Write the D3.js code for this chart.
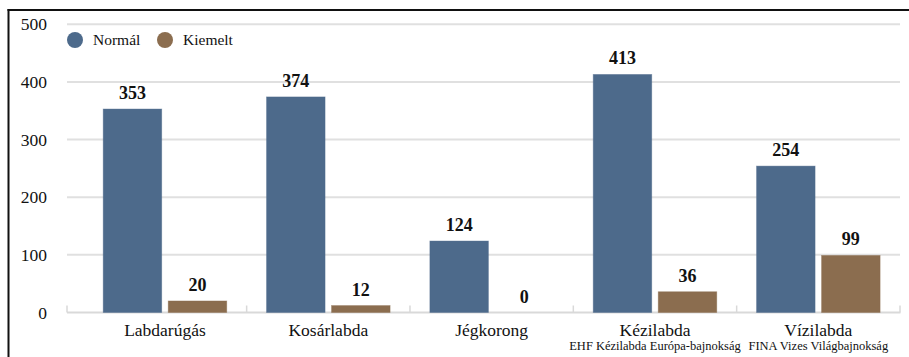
<!DOCTYPE html>
<html>
<head>
<meta charset="utf-8">
<script src="https://cdn.jsdelivr.net/npm/d3@7"></script>
<style>
  html, body { margin: 0; padding: 0; background: #fff; }
  svg { display: block; }
  text { font-family: "Liberation Serif", "Times New Roman", serif; fill: #111; }
</style>
</head>
<body>
<svg id="chart" width="909" height="357"></svg>
<script>
const categories = ["Labdarúgás", "Kosárlabda", "Jégkorong", "Kézilabda", "Vízilabda"];
const subLabels = ["", "", "", "EHF Kézilabda Európa-bajnokság", "FINA Vizes Világbajnokság"];
const seriesNames = ["Normál", "Kiemelt"];
const normalValues = [353, 374, 124, 413, 254];
const kiemeltValues = [20, 12, 0, 36, 99];
const yTicks = [0, 100, 200, 300, 400, 500];
const colors = ["#4d6a8b", "#8b6d4f"];

const svg = d3.select("#chart");
const W = 909, H = 357;

// frame
svg.append("line").attr("x1", 8.5).attr("x2", 8.5).attr("y1", 9).attr("y2", H).attr("stroke", "#111").attr("stroke-width", 2);
svg.append("line").attr("x1", 7.5).attr("x2", W).attr("y1", 10).attr("y2", 10).attr("stroke", "#111").attr("stroke-width", 2);

const gridLeft = 67, right = 900;
const y = d3.scaleLinear().domain([0, 500]).range([312.5, 24.3]);
const x = d3.scaleBand().domain(categories).range([83.3, right]).paddingInner(0).paddingOuter(0);
const xs = d3.scaleBand().domain(seriesNames).range([0, x.bandwidth()]).paddingInner(0.1).paddingOuter(0.306);

// grid
svg.append("g").selectAll("line").data(yTicks.filter(d => d > 0)).join("line")
  .attr("x1", gridLeft).attr("x2", right)
  .attr("y1", d => y(d)).attr("y2", d => y(d))
  .attr("stroke", "#e0e0e0").attr("stroke-width", 2);

// y labels
svg.append("g").selectAll("text").data(yTicks).join("text")
  .attr("x", 47).attr("y", d => y(d)).attr("dy", "0.35em")
  .attr("text-anchor", "end").attr("font-size", 17.5)
  .text(d => d);

// x axis line and ticks
svg.append("line").attr("x1", gridLeft).attr("x2", right + 0.5).attr("y1", y(0)).attr("y2", y(0))
  .attr("stroke", "#d9d9d9").attr("stroke-width", 2);
const tickXs = [gridLeft].concat(categories.slice(1).map(c => x(c))).concat([right]);
svg.append("g").selectAll("line").data(tickXs).join("line")
  .attr("x1", d => d).attr("x2", d => d).attr("y1", y(0) - 7).attr("y2", y(0))
  .attr("stroke", "#d9d9d9").attr("stroke-width", 1.5);

// bars
const rows = categories.map((c, i) => ({ cat: c, vals: [normalValues[i], kiemeltValues[i]] }));
const groups = svg.append("g").selectAll("g").data(rows).join("g")
  .attr("transform", d => `translate(${x(d.cat)},0)`);
groups.selectAll("rect").data(d => d.vals.map((v, j) => ({ v, j }))).join("rect")
  .attr("x", d => xs(seriesNames[d.j]))
  .attr("width", xs.bandwidth())
  .attr("y", d => y(d.v))
  .attr("height", d => y(0) - y(d.v))
  .attr("fill", d => colors[d.j])
  .attr("stroke", d => colors[d.j]).attr("stroke-width", 0.8).attr("stroke-opacity", 0.5);
groups.selectAll("text").data(d => d.vals.map((v, j) => ({ v, j }))).join("text")
  .attr("x", d => xs(seriesNames[d.j]) + xs.bandwidth() / 2)
  .attr("y", d => y(d.v) - 10)
  .attr("text-anchor", "middle").attr("font-size", 18).attr("font-weight", "bold")
  .text(d => d.v);

// category labels
svg.append("g").selectAll("text").data(categories).join("text")
  .attr("x", d => x(d) + x.bandwidth() / 2).attr("y", 336)
  .attr("text-anchor", "middle").attr("font-size", 17.5).text(d => d);
svg.append("g").selectAll("text").data(categories.map((c, i) => ({ c, s: subLabels[i] })).filter(d => d.s)).join("text")
  .attr("x", d => x(d.c) + x.bandwidth() / 2).attr("y", 350)
  .attr("text-anchor", "middle").attr("font-size", 12.5).text(d => d.s);

// legend
const legX = [75, 165];
const leg = svg.append("g").selectAll("g").data(seriesNames).join("g")
  .attr("transform", (d, i) => `translate(${legX[i]},40)`);
leg.append("circle").attr("r", 8).attr("fill", (d, i) => colors[i]);
leg.append("text").attr("x", 18).attr("y", 5).attr("font-size", 15.5).text(d => d);
</script>
</body>
</html>
